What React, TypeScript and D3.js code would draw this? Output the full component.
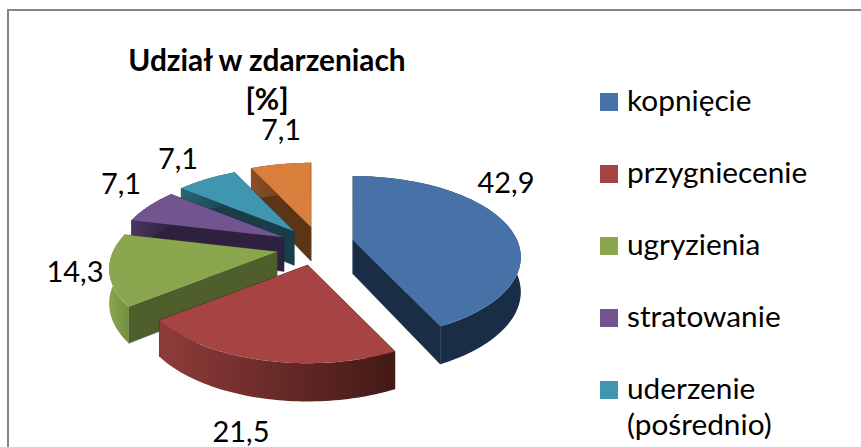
import React from "react";
import * as d3 from "d3";

const categories = ["kopnięcie", "przygniecenie", "ugryzienia", "stratowanie", "uderzenie", ""];
const values = [42.9, 21.5, 14.3, 7.1, 7.1, 7.1];
const valueLabels = ["42,9", "21,5", "14,3", "7,1", "7,1", "7,1"];
const topColors = ["#4672A8", "#A54442", "#8AA64E", "#72558F", "#3F96AE", "#D97F3B"];
const cutColors = ["#1A2D47", "#431916", "#4F5F2C", "#2E2140", "#1A3D4A", "#5C3416"];
const wallLeft = ["#1A2D47", "#8E3C3A", "#88A84F", "#4A3660", "#2A6474", "#8A5026"];
const wallRight = ["#1A2D47", "#431916", "#728F40", "#2E2140", "#1A3D4A", "#5C3416"];
const drawOrder = [5, 4, 3, 2, 0, 1];

const FONT = "Lato, sans-serif";
const CX = 316, CY = 248, R = 164, KR = 77.5, P = 0.21, DEPTH = 34, EXPLODE = 37, K = 0.475;
const nudges: [number, number][] = [[1, -4], [0, 0], [-3, 0], [1, -3], [1, -3], [3, -4]];
const labelPos: [number, number][] = [[506, 193], [241, 442], [75, 282], [121, 194], [178, 169], [281, 140]];

const proj = (ax: number, ay: number, a: number, rad = 1, z = 0): [number, number] => {
  const u = Math.sin(a) * rad, v = -Math.cos(a) * rad;
  const s = 1 / (1 - P * v);
  return [ax + R * u * s, ay + KR * v * s + z * DEPTH * Math.sqrt(s)];
};

export default function App() {
  const arcs = d3.pie<number>().sort(null)(values);
  const line = d3.line();
  const poly = (pts: [number, number][]) => line(pts)! + "Z";
  return (
    <svg width={861} height={447} style={{ position: "absolute", left: 0, top: 0, background: "#fff" }}>
      <defs>
        {values.map((_, i) => (
          <linearGradient id={`wall${i}`} key={i} x1="0" x2="1" y1="0" y2="0">
            <stop offset="0" stopColor={wallLeft[i]} />
            <stop offset="1" stopColor={wallRight[i]} />
          </linearGradient>
        ))}
      </defs>
      <path d="M8 447V10H861" fill="none" stroke="#868686" strokeWidth={2} />
      {drawOrder.map((i) => {
        const d = arcs[i];
        const mid = (d.startAngle + d.endAngle) / 2;
        const ax = CX + EXPLODE * Math.sin(mid) + nudges[i][0];
        const ay = CY - EXPLODE * Math.cos(mid) * K + nudges[i][1];
        const ts = d3.range(0, 61).map((t) => d.startAngle + ((d.endAngle - d.startAngle) * t) / 60);
        const top = ts.map((a) => proj(ax, ay, a));
        const bottom = ts.map((a) => proj(ax, ay, a, 1, 1)).reverse();
        const apex: [number, number] = [ax, ay];
        const apexB: [number, number] = proj(ax, ay, 0, 0, 1);
        const cut = (a: number) => poly([apex, proj(ax, ay, a), proj(ax, ay, a, 1, 1), apexB]);
        return (
          <g key={i}>
            <path d={cut(d.startAngle)} fill={cutColors[i]} stroke={cutColors[i]} strokeWidth={0.6} />
            <path d={cut(d.endAngle)} fill={cutColors[i]} stroke={cutColors[i]} strokeWidth={0.6} />
            <path d={poly([...top, ...bottom])} fill={`url(#wall${i})`} />
            <path d={poly([apex, ...top])} fill={topColors[i]} />
          </g>
        );
      })}
      {valueLabels.map((t, i) => (
        <text key={i} x={labelPos[i][0]} y={labelPos[i][1]} textAnchor="middle" fontFamily={FONT} fontSize={29} fill="#000">{t}</text>
      ))}
      <text x={267} y={71} textAnchor="middle" fontFamily={FONT} fontWeight={700} fontSize={29.8} fill="#000">Udział w zdarzeniach</text>
      <text x={267} y={110} textAnchor="middle" fontFamily={FONT} fontWeight={700} fontSize={29.8} fill="#000">[%]</text>
      {categories.slice(0, 5).map((c, i) => (
        <g key={c} transform={`translate(0,${72 * i})`}>
          <rect x={600} y={93} width={18} height={18} fill={topColors[i]} />
          <text x={627} y={111} fontFamily={FONT} fontSize={29.8} fill="#000">{c}</text>
        </g>
      ))}
      <text x={627} y={435} fontFamily={FONT} fontSize={29.8} fill="#000">(pośrednio)</text>
    </svg>
  );
}
